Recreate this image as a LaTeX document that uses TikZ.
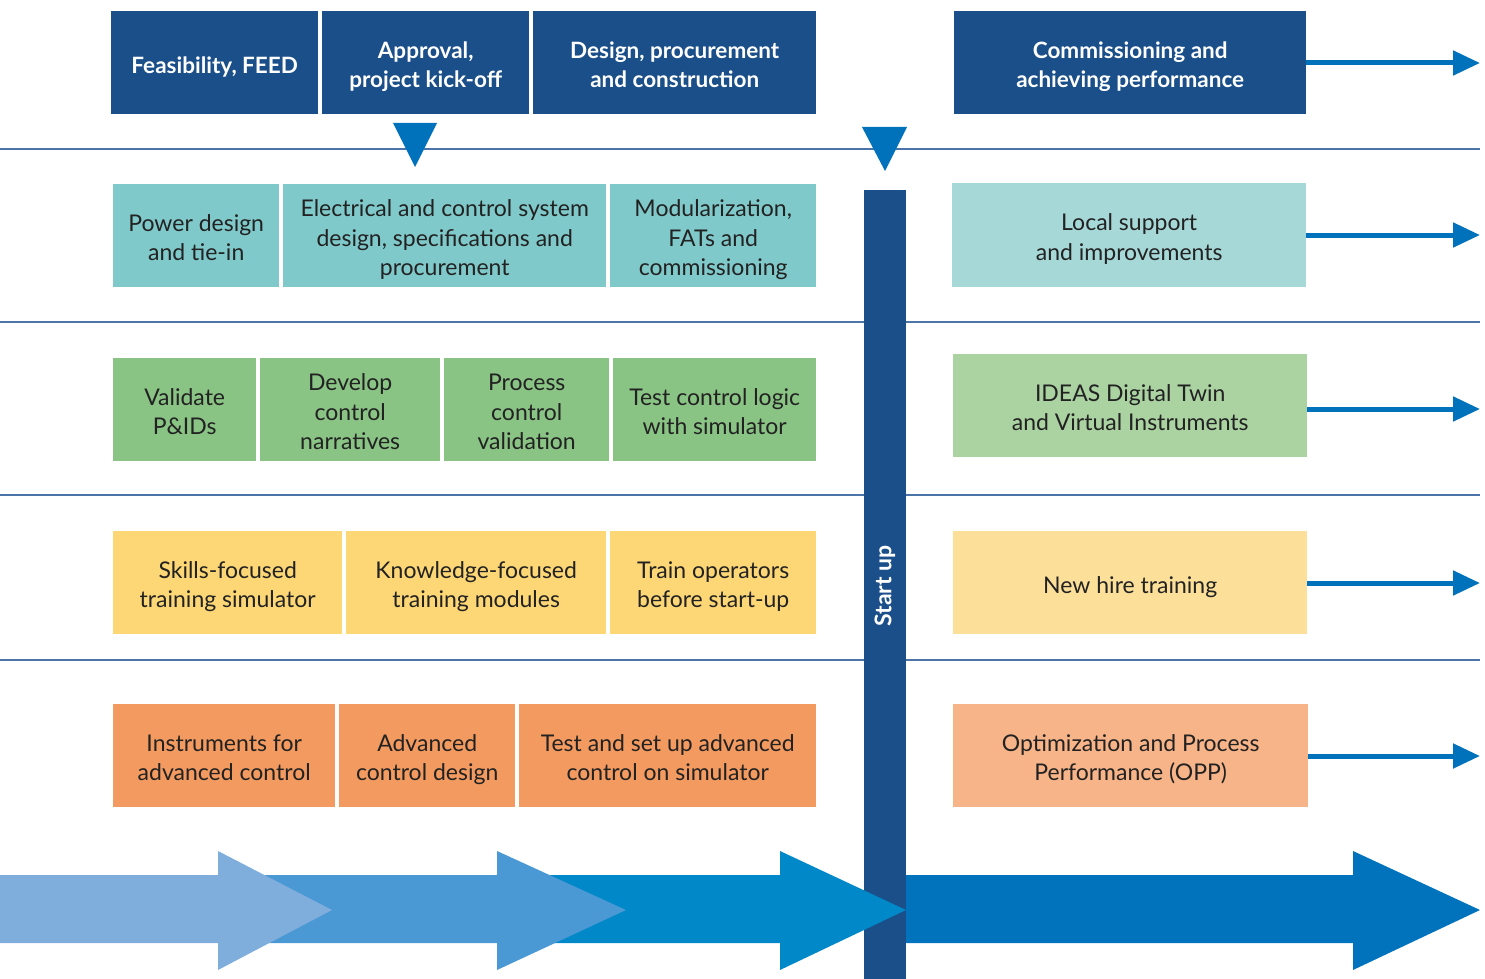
\documentclass[tikz,border=0pt]{standalone}
\usepackage{fontspec}
\setmainfont{Lato}
\usetikzlibrary{arrows.meta}
\definecolor{darkblue}{HTML}{1A4F89}
\definecolor{tealc}{HTML}{80C9CA}
\definecolor{tealL}{HTML}{A7D8D8}
\definecolor{greenc}{HTML}{8AC485}
\definecolor{greenL}{HTML}{ABD3A2}
\definecolor{yellowc}{HTML}{FDD776}
\definecolor{yellowL}{HTML}{FCE09A}
\definecolor{orangec}{HTML}{F39A60}
\definecolor{orangeL}{HTML}{F7B488}
\definecolor{lanec}{HTML}{4B74A8}
\definecolor{arrowc}{HTML}{0072BC}
\definecolor{arA}{HTML}{7FAEDD}
\definecolor{arB}{HTML}{4A98D4}
\definecolor{arC}{HTML}{0088C8}
\definecolor{arD}{HTML}{0073BC}
\definecolor{txt}{HTML}{222222}
\begin{document}
\begin{tikzpicture}[x=1pt,y=-1pt,
  cell/.style={inner sep=0pt, align=center, anchor=north west, text=txt,
    font=\fontsize{23}{29.5}\selectfont, text depth=0pt},
  one/.style={text height=21pt},
  two/.style={text height=50.5pt},
  three/.style={text height=80pt},
  head/.style={cell, fill=darkblue, text=white, font=\bfseries\fontsize{22.5}{29.5}\selectfont},
  laneline/.style={draw=lanec, line width=1.3pt},
  lanearrow/.style={draw=arrowc, line width=5pt, -{Triangle[length=27pt,width=24pt]}, shorten >=0pt},
  tri/.style={fill=arrowc},
]
\useasboundingbox (0,0) rectangle (1485,979);

% lane separators
\coordinate (l1a) at (0,149); \coordinate (l1b) at (1480,149);
\coordinate (l2a) at (0,322); \coordinate (l2b) at (1480,322);
\coordinate (l3a) at (0,495); \coordinate (l3b) at (1480,495);
\coordinate (l4a) at (0,660); \coordinate (l4b) at (1480,660);
\draw[laneline] (l1a) -- (l1b);
\draw[laneline] (l2a) -- (l2b);
\draw[laneline] (l3a) -- (l3b);
\draw[laneline] (l4a) -- (l4b);

% phase headers
\node[head, one, minimum width=207pt, minimum height=103pt] (h1) at (111,11) {Feasibility, FEED};
\node[head, two, minimum width=207pt, minimum height=103pt] (h2) at (322,11) {Approval,\\project kick-off};
\node[head, two, minimum width=283pt, minimum height=103pt] (h3) at (533,11) {Design, procurement\\and construction};
\node[head, two, minimum width=352pt, minimum height=103pt] (h4) at (954,11) {Commissioning and\\achieving performance};

% milestone triangles
\fill[tri] (393,123) -- (437,123) -- (415,167) -- cycle;
\fill[tri] (862,127) -- (907,127) -- (885,171) -- cycle;

% lane 1
\node[cell, two, fill=tealc, minimum width=166pt, minimum height=103pt] (a1) at (113,184) {Power design\\and tie-in};
\node[cell, three, fill=tealc, minimum width=323pt, minimum height=103pt] (a2) at (283,184) {Electrical and control system\\design, specifications and\\procurement};
\node[cell, three, fill=tealc, minimum width=206pt, minimum height=103pt] (a3) at (610,184) {Modularization,\\FATs and\\commissioning};
\node[cell, two, fill=tealL, minimum width=354pt, minimum height=104pt] (ar) at (952,183) {Local support\\and improvements};

% lane 2
\node[cell, two, fill=greenc, minimum width=143pt, minimum height=103pt] (b1) at (113,358) {Validate\\P\&IDs};
\node[cell, three, fill=greenc, minimum width=180pt, minimum height=103pt] (b2) at (260,358) {Develop\\control\\narratives};
\node[cell, three, fill=greenc, minimum width=165pt, minimum height=103pt] (b3) at (444,358) {Process\\control\\validation};
\node[cell, two, fill=greenc, minimum width=203pt, minimum height=103pt] (b4) at (613,358) {Test control logic\\with simulator};
\node[cell, two, fill=greenL, minimum width=354pt, minimum height=103pt] (br) at (953,354) {IDEAS Digital Twin\\and Virtual Instruments};

% lane 3
\node[cell, two, fill=yellowc, minimum width=229pt, minimum height=103pt] (c1) at (113,531) {Skills-focused\\training simulator};
\node[cell, two, fill=yellowc, minimum width=260pt, minimum height=103pt] (c2) at (346,531) {Knowledge-focused\\training modules};
\node[cell, two, fill=yellowc, minimum width=206pt, minimum height=103pt] (c3) at (610,531) {Train operators\\before start-up};
\node[cell, one, fill=yellowL, minimum width=354pt, minimum height=103pt] (cr) at (953,531) {New hire training};

% lane 4
\node[cell, two, fill=orangec, minimum width=222pt, minimum height=103pt] (d1) at (113,704) {Instruments for\\advanced control};
\node[cell, two, fill=orangec, minimum width=176pt, minimum height=103pt] (d2) at (339,704) {Advanced\\control design};
\node[cell, two, fill=orangec, minimum width=297pt, minimum height=103pt] (d3) at (519,704) {Test and set up advanced\\control on simulator};
\node[cell, two, fill=orangeL, minimum width=355pt, minimum height=103pt] (dr) at (953,704) {Optimization and Process\\Performance (OPP)};

% continuation arrows
\coordinate (eh) at (1480,63);
\coordinate (ea) at (1480,235);
\coordinate (eb) at (1480,409);
\coordinate (ec) at (1480,583);
\coordinate (ed) at (1480,756);
\draw[lanearrow] (h4.east |- eh) -- (eh);
\draw[lanearrow] (ar.east |- ea) -- (ea);
\draw[lanearrow] (br.east |- eb) -- (eb);
\draw[lanearrow] (cr.east |- ec) -- (ec);
\draw[lanearrow] (dr.east |- ed) -- (ed);

% bottom timeline arrows
\fill[arD] (906,875) -- (1353,875) -- (1353,851) -- (1480,910) -- (1353,970) -- (1353,943) -- (906,943) -- cycle;
% start up bar
\node[inner sep=0pt, anchor=north west, fill=darkblue, minimum width=42pt, minimum height=789pt] (bar) at (864,190) {};
\node[rotate=90, text=white, font=\bfseries\fontsize{23}{26}\selectfont] (su) at (885,586) {Start up};
\fill[arC] (540,875) -- (780,875) -- (780,851) -- (906,910) -- (780,970) -- (780,943) -- (540,943) -- cycle;
\fill[arB] (250,875) -- (497,875) -- (497,851) -- (626,910) -- (497,970) -- (497,943) -- (250,943) -- cycle;
\fill[arA] (0,875) -- (218,875) -- (218,851) -- (332,910) -- (218,970) -- (218,943) -- (0,943) -- cycle;
\end{tikzpicture}
\end{document}
